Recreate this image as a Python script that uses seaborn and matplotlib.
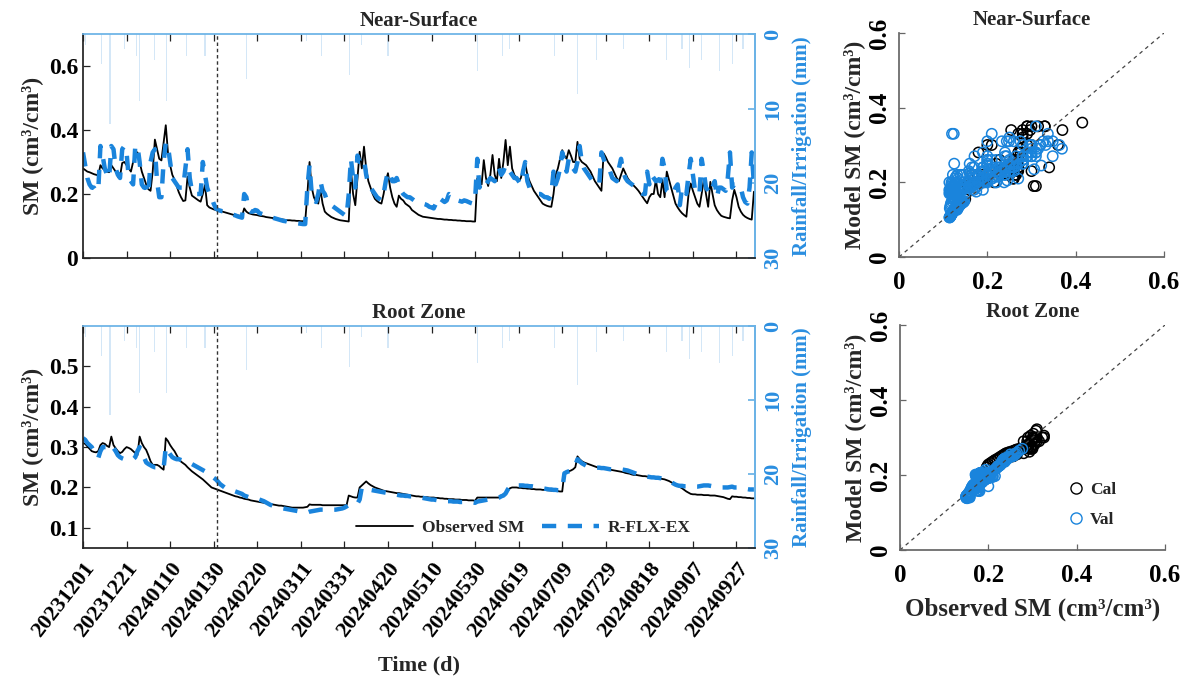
import numpy as np
import pandas as pd
import matplotlib
matplotlib.use("Agg")
import matplotlib.pyplot as plt
import seaborn as sns
from matplotlib.lines import Line2D

# ---------------- data (daily values, day 0 = 2023-12-01) ----------------
obs_ns = [
    0.280, 0.275, 0.270, 0.268, 0.265, 0.262, 0.260, 0.258, 0.290, 0.280,  # 0
    0.275, 0.270, 0.268, 0.290, 0.280, 0.270, 0.260, 0.255, 0.297, 0.300,  # 10
    0.290, 0.280, 0.270, 0.300, 0.315, 0.330, 0.300, 0.270, 0.250, 0.230,  # 20
    0.215, 0.210, 0.270, 0.370, 0.340, 0.310, 0.305, 0.360, 0.415, 0.330,  # 30
    0.290, 0.260, 0.245, 0.225, 0.205, 0.190, 0.178, 0.180, 0.254, 0.220,  # 40
    0.195, 0.190, 0.185, 0.180, 0.176, 0.200, 0.228, 0.165, 0.158, 0.155,  # 50
    0.152, 0.150, 0.148, 0.147, 0.145, 0.143, 0.141, 0.139, 0.137, 0.135,  # 60
    0.134, 0.133, 0.132, 0.131, 0.155, 0.145, 0.140, 0.138, 0.136, 0.135,  # 70
    0.134, 0.132, 0.131, 0.130, 0.128, 0.127, 0.126, 0.125, 0.124, 0.123,  # 80
    0.122, 0.121, 0.120, 0.119, 0.118, 0.118, 0.117, 0.117, 0.116, 0.116,  # 90
    0.115, 0.115, 0.114, 0.200, 0.300, 0.220, 0.190, 0.175, 0.170, 0.213,  # 100
    0.170, 0.145, 0.138, 0.133, 0.128, 0.125, 0.122, 0.120, 0.118, 0.117,  # 110
    0.116, 0.115, 0.114, 0.275, 0.200, 0.165, 0.250, 0.332, 0.280, 0.348,  # 120
    0.280, 0.240, 0.220, 0.200, 0.185, 0.178, 0.173, 0.170, 0.200, 0.240,  # 130
    0.265, 0.220, 0.190, 0.170, 0.160, 0.195, 0.185, 0.180, 0.170, 0.165,  # 140
    0.160, 0.150, 0.145, 0.140, 0.135, 0.132, 0.129, 0.128, 0.127, 0.126,  # 150
    0.125, 0.124, 0.123, 0.122, 0.122, 0.121, 0.120, 0.120, 0.119, 0.119,  # 160
    0.118, 0.118, 0.117, 0.117, 0.116, 0.116, 0.115, 0.115, 0.115, 0.114,  # 170
    0.114, 0.249, 0.240, 0.230, 0.306, 0.250, 0.225, 0.260, 0.322, 0.260,  # 180
    0.240, 0.310, 0.250, 0.300, 0.369, 0.290, 0.348, 0.280, 0.260, 0.250,  # 190
    0.240, 0.250, 0.280, 0.296, 0.260, 0.240, 0.225, 0.210, 0.200, 0.190,  # 200
    0.180, 0.170, 0.166, 0.163, 0.161, 0.160, 0.200, 0.260, 0.280, 0.310,  # 210
    0.337, 0.320, 0.310, 0.337, 0.320, 0.300, 0.300, 0.363, 0.310, 0.300,  # 220
    0.295, 0.290, 0.280, 0.270, 0.255, 0.240, 0.230, 0.220, 0.210, 0.327,  # 230
    0.315, 0.300, 0.290, 0.280, 0.265, 0.250, 0.240, 0.260, 0.280, 0.265,  # 240
    0.250, 0.240, 0.232, 0.225, 0.218, 0.210, 0.200, 0.190, 0.180, 0.171,  # 250
    0.190, 0.200, 0.200, 0.244, 0.200, 0.190, 0.244, 0.190, 0.270, 0.245,  # 260
    0.220, 0.195, 0.170, 0.158, 0.148, 0.140, 0.134, 0.129, 0.200, 0.233,  # 270
    0.210, 0.190, 0.170, 0.160, 0.200, 0.244, 0.200, 0.160, 0.238, 0.200,  # 280
    0.165, 0.150, 0.140, 0.132, 0.129, 0.127, 0.125, 0.124, 0.180, 0.213,  # 290
    0.190, 0.160, 0.145, 0.135, 0.129, 0.125, 0.122, 0.120, 0.207,         # 300
]
mod_ns = [
    0.330, 0.290, 0.250, 0.230, 0.220, 0.220, 0.210, 0.210, 0.350, 0.320,  # 0
    0.280, 0.260, 0.250, 0.350, 0.340, 0.280, 0.260, 0.250, 0.340, 0.350,  # 10
    0.330, 0.250, 0.240, 0.230, 0.350, 0.350, 0.300, 0.230, 0.220, 0.220,  # 20
    0.200, 0.300, 0.330, 0.340, 0.240, 0.190, 0.190, 0.300, 0.360, 0.350,  # 30
    0.300, 0.250, 0.240, 0.230, 0.220, 0.220, 0.220, 0.280, 0.340, 0.250,  # 40
    0.210, 0.200, 0.200, 0.200, 0.200, 0.300, 0.260, 0.220, 0.200, 0.190,  # 50
    0.170, 0.155, 0.150, 0.148, 0.146, 0.145, 0.143, 0.140, 0.138, 0.135,  # 60
    0.133, 0.130, 0.128, 0.126, 0.200, 0.190, 0.150, 0.145, 0.145, 0.150,  # 70
    0.148, 0.140, 0.138, 0.136, 0.133, 0.130, 0.128, 0.126, 0.124, 0.122,  # 80
    0.120, 0.118, 0.116, 0.115, 0.113, 0.112, 0.111, 0.110, 0.109, 0.108,  # 90
    0.107, 0.106, 0.106, 0.220, 0.290, 0.200, 0.180, 0.175, 0.200, 0.240,  # 100
    0.210, 0.200, 0.180, 0.170, 0.165, 0.160, 0.155, 0.150, 0.145, 0.140,  # 110
    0.135, 0.130, 0.200, 0.310, 0.250, 0.220, 0.320, 0.300, 0.300, 0.310,  # 120
    0.260, 0.230, 0.220, 0.210, 0.200, 0.190, 0.185, 0.180, 0.200, 0.240,  # 130
    0.270, 0.260, 0.240, 0.240, 0.250, 0.230, 0.210, 0.200, 0.195, 0.190,  # 140
    0.190, 0.185, 0.180, 0.178, 0.175, 0.172, 0.170, 0.168, 0.165, 0.160,  # 150
    0.158, 0.155, 0.170, 0.190, 0.185, 0.180, 0.175, 0.180, 0.200, 0.195,  # 160
    0.190, 0.185, 0.180, 0.178, 0.176, 0.180, 0.178, 0.175, 0.172, 0.170,  # 170
    0.180, 0.310, 0.220, 0.240, 0.235, 0.230, 0.240, 0.250, 0.245, 0.240,  # 180
    0.270, 0.280, 0.260, 0.270, 0.290, 0.280, 0.270, 0.260, 0.250, 0.250,  # 190
    0.240, 0.230, 0.270, 0.300, 0.240, 0.220, 0.215, 0.210, 0.205, 0.200,  # 200
    0.200, 0.195, 0.190, 0.190, 0.185, 0.200, 0.270, 0.230, 0.250, 0.280,  # 210
    0.330, 0.300, 0.270, 0.310, 0.300, 0.280, 0.270, 0.300, 0.350, 0.300,  # 220
    0.280, 0.270, 0.260, 0.250, 0.240, 0.235, 0.230, 0.230, 0.330, 0.310,  # 230
    0.290, 0.280, 0.270, 0.250, 0.245, 0.240, 0.280, 0.310, 0.270, 0.250,  # 240
    0.240, 0.235, 0.230, 0.225, 0.215, 0.210, 0.205, 0.200, 0.200, 0.270,  # 250
    0.230, 0.260, 0.250, 0.240, 0.245, 0.240, 0.310, 0.280, 0.210, 0.205,  # 260
    0.200, 0.200, 0.220, 0.230, 0.165, 0.220, 0.210, 0.200, 0.260, 0.310,  # 270
    0.260, 0.210, 0.200, 0.200, 0.310, 0.270, 0.220, 0.210, 0.200, 0.220,  # 280
    0.240, 0.190, 0.220, 0.220, 0.215, 0.210, 0.250, 0.330, 0.220, 0.230,  # 290
    0.230, 0.225, 0.220, 0.190, 0.175, 0.170, 0.220, 0.330, 0.230,         # 300
]
obs_rz = [
    0.310, 0.308, 0.302, 0.296, 0.290, 0.288, 0.287, 0.290, 0.305, 0.310,  # 0
    0.308, 0.303, 0.300, 0.326, 0.305, 0.297, 0.290, 0.285, 0.288, 0.295,  # 10
    0.300, 0.298, 0.295, 0.290, 0.285, 0.280, 0.326, 0.310, 0.300, 0.293,  # 20
    0.280, 0.265, 0.256, 0.256, 0.256, 0.253, 0.248, 0.244, 0.322, 0.315,  # 30
    0.305, 0.297, 0.290, 0.280, 0.270, 0.264, 0.260, 0.256, 0.250, 0.245,  # 40
    0.240, 0.236, 0.232, 0.228, 0.224, 0.220, 0.215, 0.210, 0.205, 0.200,  # 50
    0.198, 0.196, 0.194, 0.192, 0.190, 0.188, 0.186, 0.184, 0.182, 0.180,  # 60
    0.178, 0.177, 0.175, 0.174, 0.172, 0.171, 0.170, 0.168, 0.167, 0.166,  # 70
    0.165, 0.164, 0.163, 0.162, 0.161, 0.160, 0.159, 0.158, 0.157, 0.156,  # 80
    0.155, 0.155, 0.154, 0.153, 0.152, 0.151, 0.150, 0.150, 0.150, 0.150,  # 90
    0.150, 0.150, 0.151, 0.152, 0.158, 0.157, 0.157, 0.157, 0.157, 0.157,  # 100
    0.156, 0.156, 0.156, 0.156, 0.156, 0.156, 0.156, 0.156, 0.156, 0.156,  # 110
    0.156, 0.156, 0.180, 0.178, 0.176, 0.175, 0.175, 0.200, 0.205, 0.210,  # 120
    0.215, 0.210, 0.206, 0.203, 0.200, 0.198, 0.196, 0.194, 0.192, 0.191,  # 130
    0.190, 0.189, 0.188, 0.187, 0.186, 0.186, 0.185, 0.184, 0.183, 0.182,  # 140
    0.181, 0.180, 0.179, 0.178, 0.178, 0.177, 0.177, 0.176, 0.176, 0.175,  # 150
    0.175, 0.175, 0.174, 0.174, 0.173, 0.173, 0.172, 0.172, 0.171, 0.171,  # 160
    0.171, 0.170, 0.170, 0.170, 0.169, 0.169, 0.169, 0.168, 0.168, 0.168,  # 170
    0.167, 0.175, 0.175, 0.175, 0.175, 0.175, 0.175, 0.175, 0.175, 0.175,  # 180
    0.175, 0.175, 0.180, 0.183, 0.185, 0.192, 0.198, 0.200, 0.200, 0.200,  # 190
    0.199, 0.199, 0.198, 0.198, 0.197, 0.197, 0.196, 0.196, 0.195, 0.195,  # 200
    0.195, 0.194, 0.194, 0.193, 0.193, 0.192, 0.192, 0.191, 0.191, 0.190,  # 210
    0.190, 0.237, 0.238, 0.240, 0.242, 0.245, 0.250, 0.277, 0.270, 0.265,  # 220
    0.262, 0.260, 0.258, 0.256, 0.254, 0.252, 0.250, 0.249, 0.248, 0.247,  # 230
    0.246, 0.245, 0.244, 0.243, 0.242, 0.241, 0.240, 0.239, 0.238, 0.236,  # 240
    0.235, 0.234, 0.232, 0.231, 0.231, 0.230, 0.229, 0.228, 0.228, 0.227,  # 250
    0.226, 0.225, 0.224, 0.224, 0.223, 0.222, 0.221, 0.220, 0.218, 0.216,  # 260
    0.213, 0.210, 0.207, 0.204, 0.201, 0.198, 0.194, 0.190, 0.187, 0.184,  # 270
    0.183, 0.183, 0.182, 0.182, 0.182, 0.181, 0.181, 0.181, 0.180, 0.180,  # 280
    0.180, 0.179, 0.178, 0.177, 0.176, 0.174, 0.172, 0.171, 0.178, 0.177,  # 290
    0.177, 0.176, 0.176, 0.175, 0.175, 0.174, 0.174, 0.173, 0.173,         # 300
]
mod_rz = [
    0.322, 0.318, 0.310, 0.305, 0.300, 0.290, 0.280, 0.273, 0.290, 0.300,  # 0
    0.300, 0.300, 0.298, 0.305, 0.298, 0.290, 0.280, 0.275, 0.272, 0.270,  # 10
    0.270, 0.270, 0.272, 0.270, 0.275, 0.290, 0.300, 0.290, 0.275, 0.262,  # 20
    0.258, 0.255, 0.252, 0.250, 0.250, 0.250, 0.248, 0.247, 0.300, 0.290,  # 30
    0.282, 0.275, 0.272, 0.270, 0.270, 0.268, 0.266, 0.264, 0.262, 0.260,  # 40
    0.258, 0.255, 0.252, 0.249, 0.246, 0.243, 0.240, 0.236, 0.232, 0.228,  # 50
    0.224, 0.220, 0.214, 0.208, 0.204, 0.200, 0.198, 0.196, 0.194, 0.192,  # 60
    0.190, 0.188, 0.186, 0.184, 0.180, 0.178, 0.176, 0.175, 0.174, 0.173,  # 70
    0.172, 0.170, 0.168, 0.166, 0.163, 0.160, 0.157, 0.155, 0.153, 0.151,  # 80
    0.150, 0.149, 0.148, 0.147, 0.146, 0.145, 0.144, 0.143, 0.142, 0.141,  # 90
    0.140, 0.139, 0.139, 0.138, 0.140, 0.141, 0.142, 0.143, 0.144, 0.145,  # 100
    0.145, 0.145, 0.145, 0.145, 0.145, 0.145, 0.145, 0.146, 0.147, 0.148,  # 110
    0.150, 0.153, 0.157, 0.158, 0.158, 0.159, 0.160, 0.170, 0.200, 0.198,  # 120
    0.197, 0.195, 0.194, 0.193, 0.192, 0.191, 0.190, 0.189, 0.188, 0.187,  # 130
    0.186, 0.185, 0.184, 0.183, 0.182, 0.181, 0.180, 0.180, 0.179, 0.179,  # 140
    0.178, 0.178, 0.177, 0.177, 0.176, 0.175, 0.174, 0.173, 0.172, 0.171,  # 150
    0.170, 0.170, 0.169, 0.168, 0.168, 0.167, 0.167, 0.166, 0.166, 0.166,  # 160
    0.165, 0.165, 0.165, 0.164, 0.164, 0.164, 0.163, 0.163, 0.163, 0.163,  # 170
    0.162, 0.165, 0.166, 0.167, 0.168, 0.169, 0.170, 0.171, 0.172, 0.173,  # 180
    0.174, 0.175, 0.178, 0.180, 0.185, 0.195, 0.203, 0.206, 0.206, 0.206,  # 190
    0.205, 0.205, 0.205, 0.204, 0.204, 0.203, 0.203, 0.202, 0.201, 0.200,  # 200
    0.199, 0.198, 0.197, 0.196, 0.195, 0.195, 0.194, 0.194, 0.193, 0.193,  # 210
    0.195, 0.235, 0.238, 0.240, 0.242, 0.245, 0.255, 0.270, 0.265, 0.260,  # 220
    0.257, 0.254, 0.252, 0.251, 0.250, 0.250, 0.249, 0.249, 0.248, 0.248,  # 230
    0.247, 0.246, 0.245, 0.245, 0.244, 0.244, 0.245, 0.245, 0.244, 0.243,  # 240
    0.242, 0.240, 0.238, 0.236, 0.234, 0.232, 0.230, 0.229, 0.228, 0.227,  # 250
    0.226, 0.225, 0.225, 0.224, 0.224, 0.223, 0.222, 0.220, 0.218, 0.216,  # 260
    0.213, 0.210, 0.207, 0.205, 0.204, 0.204, 0.203, 0.203, 0.203, 0.202,  # 270
    0.202, 0.202, 0.202, 0.203, 0.204, 0.205, 0.205, 0.205, 0.204, 0.203,  # 280
    0.202, 0.201, 0.200, 0.200, 0.200, 0.200, 0.200, 0.201, 0.202, 0.200,  # 290
    0.200, 0.200, 0.198, 0.197, 0.196, 0.196, 0.195, 0.195, 0.195,         # 300
]
rain_day = [1, 8.5, 12.4, 19, 24.7, 26, 33, 38.4, 47.5, 56, 75, 102.6, 109.5,
            122.5, 127.8, 140, 181, 192.7, 196, 216.5, 220, 227, 235.8, 248,
            268, 275, 278.4, 284, 292, 298, 303]
rain_mm = [1.5, 4, 12, 2, 3, 9, 3.5, 9, 3, 3, 6, 1, 3, 5.5, 1.5, 3, 5, 3, 2,
           3, 1, 8, 3.5, 2, 3.5, 2, 4.5, 3.5, 5, 4, 2]
tick_days = list(range(0, 301, 20))
tick_labels = ["20231201", "20231221", "20240110", "20240130", "20240220",
               "20240311", "20240331", "20240420", "20240510", "20240530",
               "20240619", "20240709", "20240729", "20240818", "20240907",
               "20240927"]
cal_end_day = 61.3

days = np.arange(len(obs_ns))
df = pd.DataFrame({"day": days, "obs_ns": obs_ns, "mod_ns": mod_ns,
                   "obs_rz": obs_rz, "mod_rz": mod_rz})
df["period"] = np.where(df["day"] <= cal_end_day, "Cal", "Val")

# ---------------- style ----------------
sns.set_theme(style="ticks")
plt.rcParams["font.family"] = ["Liberation Serif", "DejaVu Serif"]
plt.rcParams["font.weight"] = "bold"
plt.rcParams["axes.labelweight"] = "bold"
plt.rcParams["axes.titleweight"] = "bold"

BLUE = "#1a84dc"
LBLUE = "#6ab2e6"
TBLUE = "#2a8ee0"
RAIN = "#b8d8f2"

fig = plt.figure(figsize=(11.85, 6.76), dpi=100)
W, H = 1185, 676
def rect(x0, y0, x1, y1):
    return [x0 / W, 1 - y1 / H, (x1 - x0) / W, (y1 - y0) / H]

ax_ns = fig.add_axes(rect(83, 34, 755, 258))
ax_rz = fig.add_axes(rect(83, 326, 755, 548))
sc_ns = fig.add_axes(rect(899, 33, 1164, 257))
sc_rz = fig.add_axes(rect(900, 325, 1165, 550))

def ts_panel(ax, obs_col, mod_col, ylim, yticks, title, show_xlabels):
    ax2 = ax.twinx()
    ax2.bar(rain_day, rain_mm, width=0.5, color=RAIN, alpha=0.6,
            linewidth=0)
    ax2.set_ylim(30, 0)
    ax2.set_yticks([0, 10, 20, 30])
    ax2.tick_params(axis="y", direction="in", colors=LBLUE, labelcolor=TBLUE,
                    labelsize=16, length=5, labelrotation=90, pad=6)
    for lbl in ax2.get_yticklabels():
        lbl.set_verticalalignment("center")
    ax2.set_ylabel("Rainfall/Irrigation (mm)", color=TBLUE, fontsize=15,
                   labelpad=6)
    for s in ["left", "top", "bottom"]:
        ax2.spines[s].set_visible(False)
    ax2.spines["right"].set_color(LBLUE)
    ax.set_zorder(ax2.get_zorder() + 1)
    ax.patch.set_visible(False)

    sns.lineplot(data=df, x="day", y=obs_col, ax=ax, color="black",
                 linewidth=1.3, estimator=None)
    sns.lineplot(data=df, x="day", y=mod_col, ax=ax, color=BLUE,
                 linewidth=3.2, estimator=None)
    ax.lines[-1].set_dashes([3.2, 2.6])
    ax.axvline(cal_end_day, color="#333333", linewidth=1.0,
               linestyle=(0, (2.5, 2)))
    ax.set_xlim(0, 308.5)
    ax.set_ylim(*ylim)
    ax.set_yticks(yticks)
    ax.set_yticklabels([("0" if v == 0 else f"{v:g}") for v in yticks])
    ax.set_xticks(tick_days)
    if show_xlabels:
        ax.set_xticklabels(tick_labels, rotation=52, ha="right",
                           rotation_mode="anchor", fontsize=16)
        ax.set_xlabel("Time (d)", fontsize=16, labelpad=10)
    else:
        ax.set_xticklabels([])
        ax.set_xlabel("")
    ax.set_ylabel("SM (cm³/cm³)", fontsize=17, labelpad=4)
    ax.set_title(title, fontsize=15, pad=6)
    ax.tick_params(axis="both", direction="in", length=5, width=0.9,
                   colors="#222222", labelcolor="black")
    ax.tick_params(axis="y", labelsize=17, right=False)
    ax.tick_params(axis="x", top=True, pad=8)
    ax.spines["left"].set_color("#222222")
    ax.spines["bottom"].set_color("#222222")
    ax.spines["top"].set_color(LBLUE)
    ax.spines["right"].set_color(LBLUE)
    return ax2

ts_panel(ax_ns, "obs_ns", "mod_ns", (0, 0.7), [0, 0.2, 0.4, 0.6],
         "Near-Surface", False)
ts_panel(ax_rz, "obs_rz", "mod_rz", (0.05, 0.6), [0.1, 0.2, 0.3, 0.4, 0.5],
         "Root Zone", True)

h_leg = [Line2D([], [], color="black", linewidth=1.3),
         Line2D([], [], color=BLUE, linewidth=3.2, dashes=[3.2, 2.6])]
ax_rz.legend(h_leg, ["Observed SM", "R-FLX-EX"], ncol=2, frameon=False,
             loc="center", bbox_to_anchor=(0.655, 0.09), fontsize=12.5,
             handlelength=3.3, columnspacing=1.0, handletextpad=0.5)

def sc_panel(ax, obs_col, mod_col, title, show_xlabel):
    for per, col in [("Cal", "black"), ("Val", BLUE)]:
        sub = df[df["period"] == per]
        sns.scatterplot(x=sub[obs_col], y=sub[mod_col], ax=ax, marker="o",
                        s=55, facecolor="none", edgecolor=col,
                        linewidth=1.1)
    ax.plot([0, 0.6], [0, 0.6], color="#444444", linewidth=0.9,
            linestyle=(0, (3, 3)))
    ax.set_xlim(0, 0.6)
    ax.set_ylim(0, 0.6)
    ticks = [0, 0.2, 0.4, 0.6]
    ax.set_xticks(ticks)
    ax.set_yticks(ticks)
    ax.set_xticklabels(["0", "0.2", "0.4", "0.6"])
    ax.set_yticklabels(["0", "0.2", "0.4", "0.6"])
    ax.tick_params(axis="both", direction="in", length=4, width=0.9,
                   colors="#666666", labelcolor="black", labelsize=18)
    ax.tick_params(axis="x", pad=10)
    ax.tick_params(axis="y", labelrotation=90, pad=6)
    for lbl in ax.get_yticklabels():
        lbl.set_verticalalignment("center")
    for s in ["top", "right"]:
        ax.spines[s].set_visible(False)
    for s in ["left", "bottom"]:
        ax.spines[s].set_color("#666666")
    ax.set_title(title, fontsize=15, pad=6)
    ax.set_ylabel("Model SM (cm³/cm³)", fontsize=17, labelpad=2)
    if show_xlabel:
        ax.set_xlabel("Observed SM (cm³/cm³)", fontsize=18, labelpad=8)
    else:
        ax.set_xlabel("")

sc_panel(sc_ns, "obs_ns", "mod_ns", "Near-Surface", False)
sc_panel(sc_rz, "obs_rz", "mod_rz", "Root Zone", True)

h_cv = [Line2D([], [], linestyle="none", marker="o", markersize=8,
               markerfacecolor="none", markeredgecolor="black"),
        Line2D([], [], linestyle="none", marker="o", markersize=8,
               markerfacecolor="none", markeredgecolor=BLUE)]
sc_rz.legend(h_cv, ["Cal", "Val"], frameon=False, loc="center",
             bbox_to_anchor=(0.72, 0.2), fontsize=12.5, handletextpad=0.2,
             labelspacing=0.8, handlelength=1.2)

fig.savefig("out.png", dpi=100)
